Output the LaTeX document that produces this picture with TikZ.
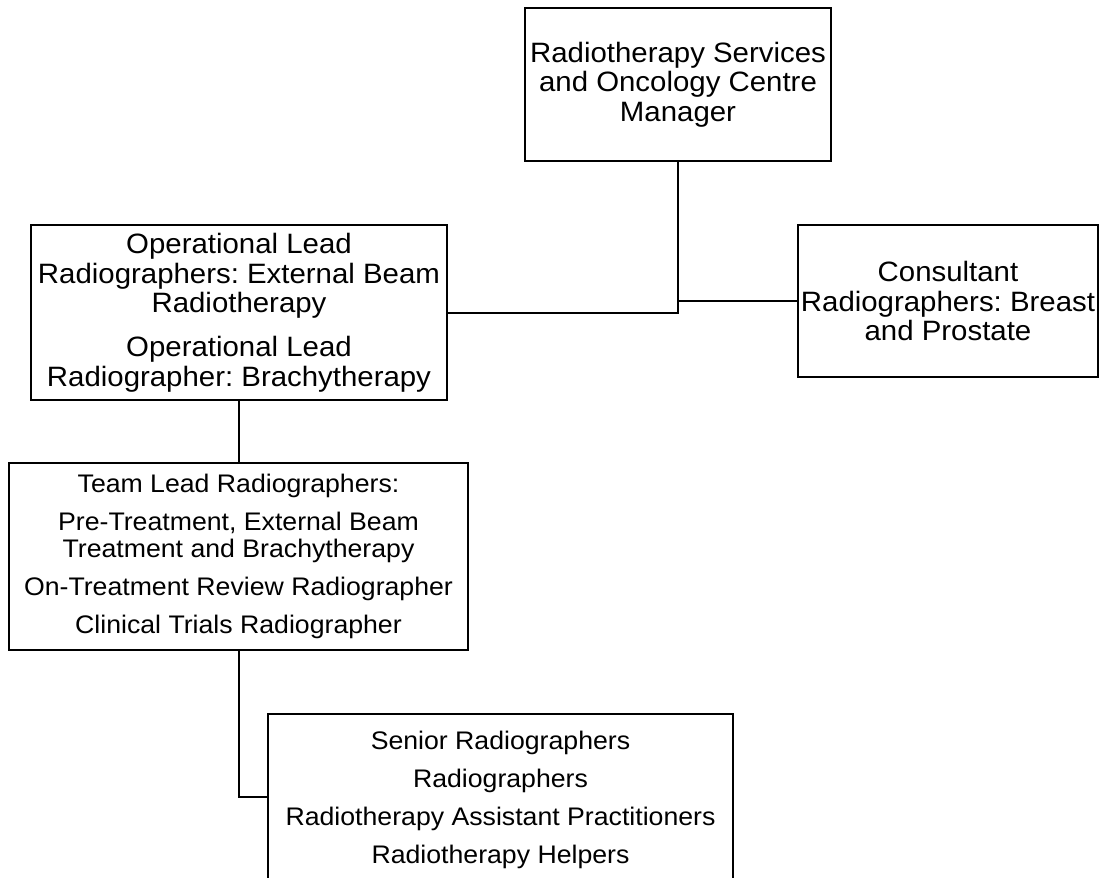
\documentclass[tikz,border=0pt]{standalone}
\usepackage{fontspec}
\setmainfont{Liberation Sans}[FakeStretch=1.05]
\frenchspacing
\tikzset{
  box/.style={draw, line width=2pt, align=center, inner sep=0pt, text=black},
  big/.style={font=\fontsize{28}{29.7}\selectfont},
  small/.style={font=\fontsize{25.4}{27}\selectfont},
  link/.style={line width=2pt}
}
\begin{document}
\begin{tikzpicture}[x=1pt,y=-1pt]
\clip (0,0) rectangle (1101,878);
\node[box,big,minimum width=306pt,minimum height=153pt] (top) at (678,84.5)
  {Radiotherapy Services\\and Oncology Centre\\Manager};
\node[box,big,minimum width=416pt,minimum height=175pt] (ops) at (239,312.5)
  {Operational Lead\\Radiographers: External Beam\\Radiotherapy\\[14pt]Operational Lead\\Radiographer: Brachytherapy};
\node[box,big,minimum width=300pt,minimum height=152pt] (cons) at (948,301)
  {Consultant\\Radiographers: Breast\\and Prostate};
\node[box,small,minimum width=459pt,minimum height=187pt] (team) at (238.5,556.5)
  {Team Lead Radiographers:\\[11pt]Pre-Treatment, External Beam\\Treatment and Brachytherapy\\[11pt]On-Treatment Review Radiographer\\[11pt]Clinical Trials Radiographer};
\node[box,small,minimum width=465pt,minimum height=172pt] (bot) at (500.5,800)
  {Senior Radiographers\\[11pt]Radiographers\\[11pt]Radiotherapy Assistant Practitioners\\[11pt]Radiotherapy Helpers};
\coordinate (botjoin) at ([yshift=3pt]bot.west);
\draw[link] (top.south) |- (ops.east);
\draw[link] (top.south |- cons.west) -- (cons.west);
\draw[link] (ops.south) -- (ops.south |- team.north);
\draw[link] (team.south) |- (botjoin);
\end{tikzpicture}
\end{document}
